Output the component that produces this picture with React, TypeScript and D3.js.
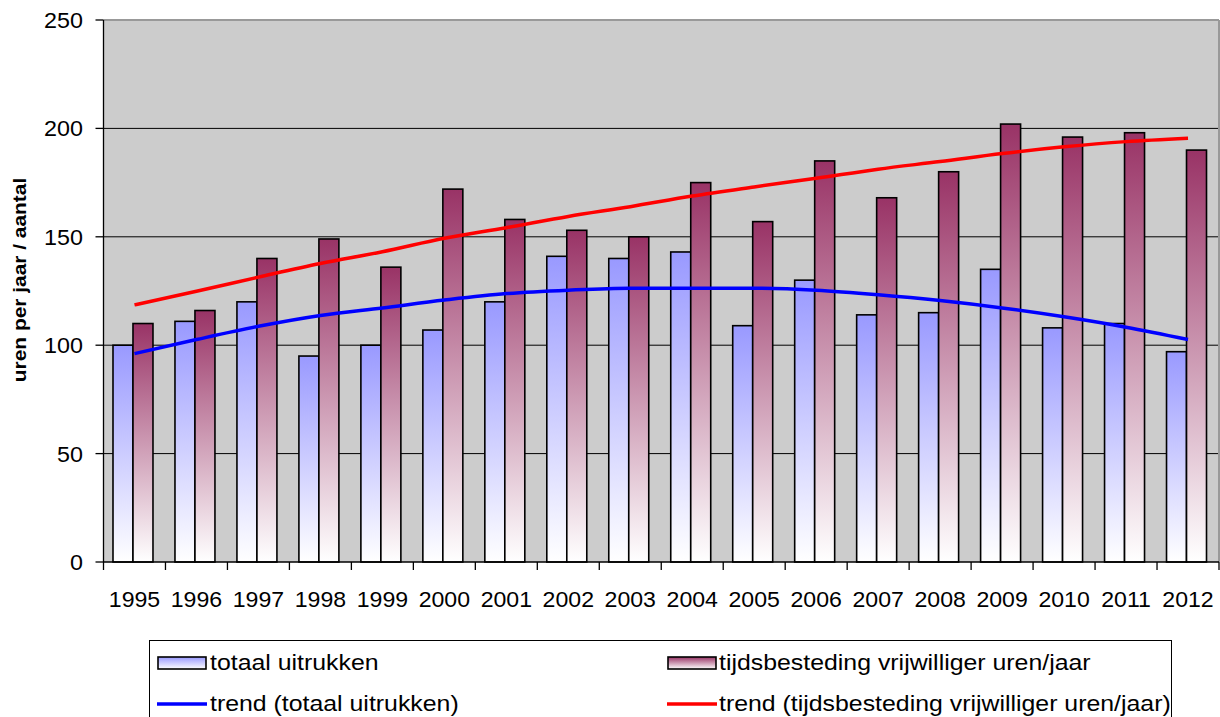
import React from "react";
import * as d3 from "d3";

const years = ["1995","1996","1997","1998","1999","2000","2001","2002","2003","2004","2005","2006","2007","2008","2009","2010","2011","2012"];
const uitrukken = [100,111,120,95,100,107,120,141,140,143,109,130,114,115,135,108,110,97];
const vrijwilligerUren = [110,116,140,149,136,172,158,153,150,175,157,185,168,180,202,196,198,190];
const trendUitrukken = [96.1,102.6,108.7,113.7,117.2,120.8,123.8,125.4,126.3,126.3,126.3,125.4,123.3,120.6,117.2,113.1,108.3,102.6];
const trendUren = [118.6,124.9,131.4,137.7,143.1,149.3,154.2,159.4,163.9,168.8,173.0,177.0,181.2,184.7,188.4,191.5,193.9,195.5];
const yTicks = [0,50,100,150,200,250];
const legendLabels = ["totaal uitrukken","tijdsbesteding vrijwilliger uren/jaar","trend (totaal uitrukken)","trend (tijdsbesteding vrijwilliger uren/jaar)"];
const yTitle = "uren per jaar / aantal";

const FONT = "'Liberation Sans', Arial, sans-serif";

function SText(props: { x: number; y: number; sx: number; anchor?: string; size: number; children: React.ReactNode }) {
  return (
    <text
      transform={`translate(${props.x},${props.y}) scale(${props.sx},1)`}
      dy="0.36em"
      textAnchor={props.anchor || "start"}
      fontSize={props.size}
      fill="#000"
    >
      {props.children}
    </text>
  );
}

export default function App() {
  const left = 103.5, right = 1219, top = 20, bottom = 562;
  const x = d3.scaleBand<string>().domain(years).range([left, right]).paddingInner(0).paddingOuter(0);
  const y = d3.scaleLinear().domain([0, 250]).range([bottom, top]);
  const slot = x.bandwidth();
  const barW = slot * 20 / 62;
  const off = slot * 9.5 / 62;

  const line = d3.line<number>()
    .x((_, i) => (x(years[i]) as number) + slot / 2)
    .y((d) => y(d))
    .curve(d3.curveMonotoneX);

  return (
    <svg width={1220} height={717} style={{ position: "absolute", left: 0, top: 0 }} fontFamily={FONT}>
      <defs>
        <linearGradient id="gBlue" x1="0" y1="0" x2="0" y2="1">
          <stop offset="0%" stopColor="#9999ff" />
          <stop offset="100%" stopColor="#ffffff" />
        </linearGradient>
        <linearGradient id="gRed" x1="0" y1="0" x2="0" y2="1">
          <stop offset="0%" stopColor="#993366" />
          <stop offset="100%" stopColor="#ffffff" />
        </linearGradient>
      </defs>
      <rect x={0} y={0} width={1220} height={717} fill="#ffffff" />
      {/* plot area */}
      <rect x={left} y={top} width={right - left} height={bottom - top} fill="#cccccc" />
      {yTicks.filter((t) => t > 0 && t < 250).map((t) => (
        <line key={t} x1={left} x2={right} y1={y(t)} y2={y(t)} stroke="#000" strokeWidth={1} />
      ))}
      <line x1={left} x2={right} y1={top} y2={top} stroke="#999" strokeWidth={2} />
      <line x1={right} x2={right} y1={top} y2={bottom} stroke="#999" strokeWidth={2} />

      {/* bars */}
      {years.map((yr, i) => {
        const bx = x(yr) as number;
        return (
          <g key={yr}>
            <rect x={bx + off} y={y(uitrukken[i])} width={barW} height={bottom - y(uitrukken[i])} fill="url(#gBlue)" stroke="#000" strokeWidth={1.6} />
            <rect x={bx + off + barW} y={y(vrijwilligerUren[i])} width={barW} height={bottom - y(vrijwilligerUren[i])} fill="url(#gRed)" stroke="#000" strokeWidth={1.6} />
          </g>
        );
      })}

      {/* trend lines */}
      <path d={line(trendUitrukken) || ""} fill="none" stroke="#0000ff" strokeWidth={3.5} />
      <path d={line(trendUren) || ""} fill="none" stroke="#ff0000" strokeWidth={3.5} />

      {/* axes */}
      <line x1={left} x2={left} y1={top} y2={bottom} stroke="#000" strokeWidth={1.3} />
      <line x1={left} x2={right} y1={bottom} y2={bottom} stroke="#000" strokeWidth={1.3} />
      {yTicks.map((t) => (
        <g key={t}>
          <line x1={left - 8} x2={left} y1={y(t)} y2={y(t)} stroke="#000" strokeWidth={1.3} />
          <SText x={83} y={y(t)} sx={1.06} anchor="end" size={22}>{t}</SText>
        </g>
      ))}
      {[...years.map((yr) => x(yr) as number), right].map((tx, i) => (
        <line key={i} x1={tx} x2={tx} y1={bottom} y2={bottom + 8} stroke="#000" strokeWidth={1.3} />
      ))}
      {years.map((yr) => (
        <SText key={yr} x={(x(yr) as number) + slot / 2} y={599} sx={1.05} anchor="middle" size={22}>{yr}</SText>
      ))}

      {/* y title */}
      <text transform="translate(26,280) rotate(-90) scale(1.1,1)" textAnchor="middle" fontSize={19} fontWeight="bold" fill="#000">{yTitle}</text>

      {/* legend */}
      <rect x={149.5} y={640.5} width={1022} height={90} fill="#fff" stroke="#000" strokeWidth={1} />
      <rect x={158} y={657} width={48} height={12} fill="url(#gBlue)" stroke="#000" strokeWidth={1.6} />
      <SText x={210} y={662} sx={1.13} size={22}>{legendLabels[0]}</SText>
      <rect x={668} y={657} width={48} height={12} fill="url(#gRed)" stroke="#000" strokeWidth={1.6} />
      <SText x={719} y={662} sx={1.13} size={22}>{legendLabels[1]}</SText>
      <line x1={157} x2={207} y1={704} y2={704} stroke="#0000ff" strokeWidth={3.5} />
      <SText x={210} y={703} sx={1.13} size={22}>{legendLabels[2]}</SText>
      <line x1={667} x2={717} y1={704} y2={704} stroke="#ff0000" strokeWidth={3.5} />
      <SText x={719} y={703} sx={1.13} size={22}>{legendLabels[3]}</SText>
    </svg>
  );
}
